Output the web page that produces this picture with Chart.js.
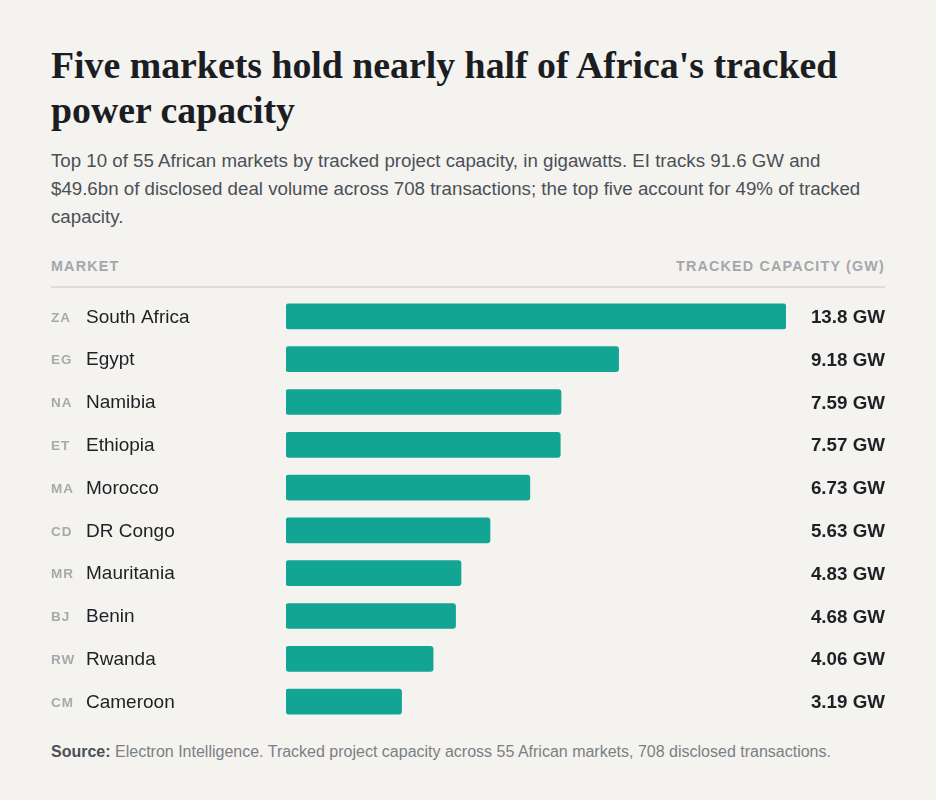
<!DOCTYPE html>
<html>
<head>
<meta charset="utf-8">
<script src="https://cdn.jsdelivr.net/npm/chart.js@4.4.1/dist/chart.umd.min.js"></script>
<style>
    html, body {
        margin: 0;
        padding: 0;
        background: #f4f3ef;
    }
    body {
        width: 936px;
        height: 800px;
        position: relative;
        font-family: "Liberation Sans", Arial, sans-serif;
        overflow: hidden;
    }
    .title {
        position: absolute;
        left: 51px;
        top: 43px;
        width: 840px;
        margin: 0;
        font-family: "Liberation Serif", "Times New Roman", serif;
        font-weight: 700;
        font-size: 37.8px;
        line-height: 45px;
        color: #1b1d22;
    }
    .subtitle {
        position: absolute;
        left: 51px;
        top: 147px;
        width: 834px;
        margin: 0;
        font-size: 18.7px;
        line-height: 28px;
        color: #4b5057;
    }
    .header {
        position: absolute;
        left: 51px;
        top: 258px;
        width: 834px;
        font-size: 14.3px;
        font-weight: 700;
        letter-spacing: 1.2px;
        color: #a4a7ac;
        border-bottom: 2px solid #dedcd5;
        height: 28px;
    }
    .header .right {
        position: absolute;
        right: 0;
        top: 0;
    }
    .chart-wrap {
        position: absolute;
        left: 51px;
        top: 295px;
        width: 834px;
        height: 428px;
    }
    .source {
        position: absolute;
        left: 51px;
        top: 743px;
        font-size: 16px;
        color: #7b7f86;
    }
    .source b {
        color: #4b5057;
    }
</style>
</head>
<body>
<h1 class="title">Five markets hold nearly half of Africa's tracked power capacity</h1>
<p class="subtitle">Top 10 of 55 African markets by tracked project capacity, in gigawatts. EI tracks 91.6 GW and $49.6bn of disclosed deal volume across 708 transactions; the top five account for 49% of tracked capacity.</p>
<div class="header"><span>MARKET</span><span class="right">TRACKED CAPACITY (GW)</span></div>
<div class="chart-wrap"><canvas id="capacity-chart"></canvas></div>
<div class="source"><b>Source:</b> Electron Intelligence. Tracked project capacity across 55 African markets, 708 disclosed transactions.</div>

<script>
// Chart data
const codes = ["ZA", "EG", "NA", "ET", "MA", "CD", "MR", "BJ", "RW", "CM"];
const markets = ["South Africa", "Egypt", "Namibia", "Ethiopia", "Morocco", "DR Congo", "Mauritania", "Benin", "Rwanda", "Cameroon"];
const capacity = [13.8, 9.18, 7.59, 7.57, 6.73, 5.63, 4.83, 4.68, 4.06, 3.19];
const valueLabels = ["13.8 GW", "9.18 GW", "7.59 GW", "7.57 GW", "6.73 GW", "5.63 GW", "4.83 GW", "4.68 GW", "4.06 GW", "3.19 GW"];

/**
 * Draw country code, market name and value beside each bar
 */
const rowLabels = {
    id: "rowLabels",
    afterDatasetsDraw(chart) {
        const ctx = chart.ctx;
        const yScale = chart.scales.y;
        ctx.save();
        ctx.textBaseline = "middle";
        markets.forEach((name, i) => {
            const y = yScale.getPixelForValue(i);

            ctx.textAlign = "left";
            ctx.fillStyle = "#a6a9ae";
            ctx.font = "700 13.5px 'Liberation Sans', Arial, sans-serif";
            ctx.letterSpacing = "1px";
            ctx.fillText(codes[i], 0, y + 1.5);

            ctx.letterSpacing = "0px";
            ctx.fillStyle = "#1d2025";
            ctx.font = "19px 'Liberation Sans', Arial, sans-serif";
            ctx.fillText(name, 35, y + 1);

            ctx.textAlign = "right";
            ctx.font = "700 18.8px 'Liberation Sans', Arial, sans-serif";
            ctx.fillText(valueLabels[i], chart.width, y + 1.5);
        });
        ctx.restore();
    },
};

new Chart(document.getElementById("capacity-chart"), {
    type: "bar",
    data: {
        labels: markets,
        datasets: [
            {
                data: capacity,
                backgroundColor: "#13a594",
                borderRadius: 3,
                borderSkipped: false,
                barThickness: 25,
            },
        ],
    },
    options: {
        indexAxis: "y",
        responsive: true,
        maintainAspectRatio: false,
        animation: false,
        layout: {
            padding: { left: 235, right: 99, top: 0, bottom: 0 },
        },
        scales: {
            x: { display: false, min: 0, max: 13.8 },
            y: { display: false },
        },
        plugins: {
            legend: { display: false },
            tooltip: { enabled: false },
        },
    },
    plugins: [rowLabels],
});
</script>
</body>
</html>
